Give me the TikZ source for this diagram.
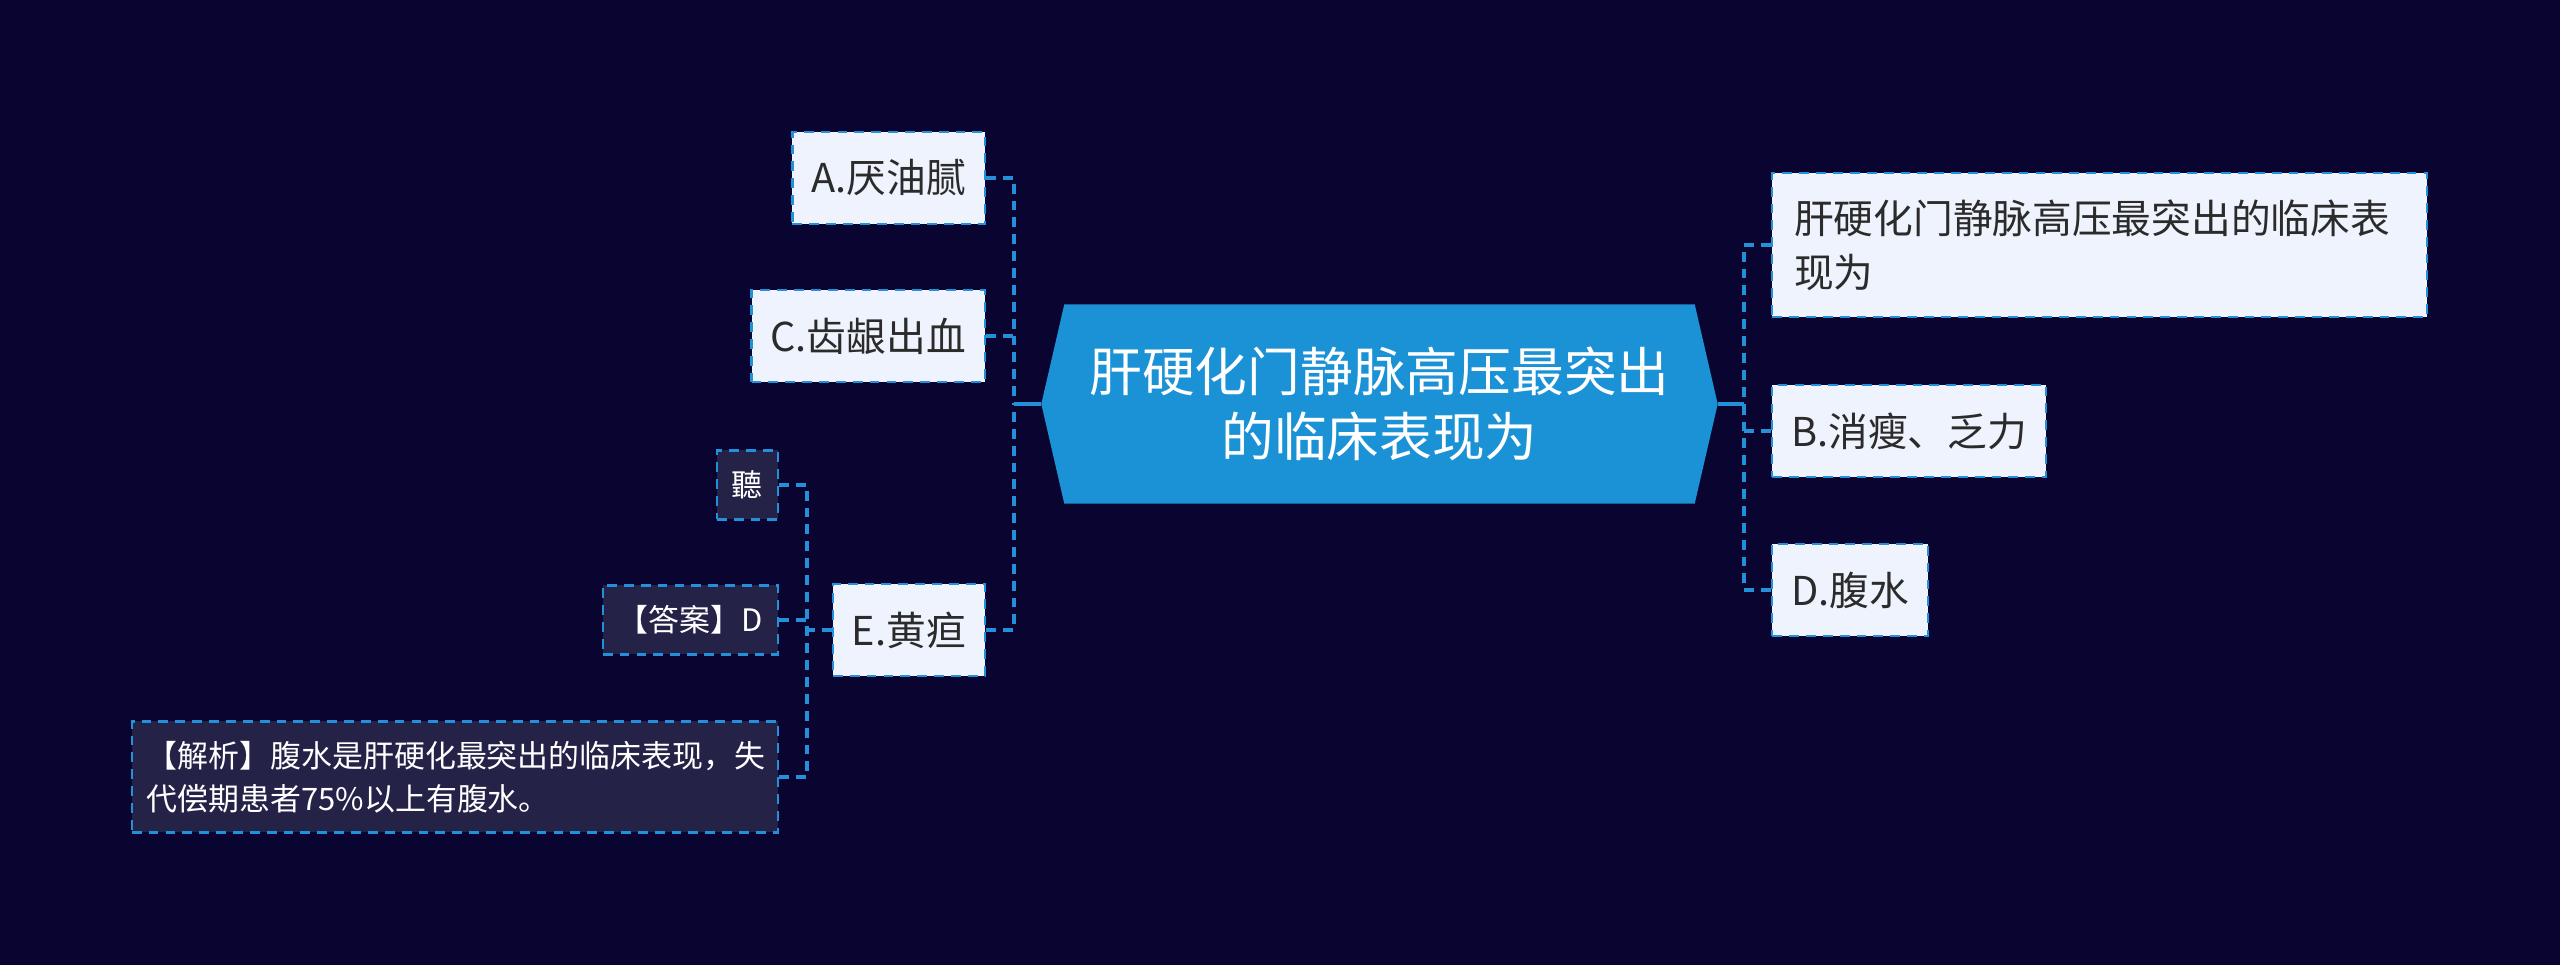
\documentclass[tikz,border=0pt]{standalone}
\usepackage{fontspec}
\setmainfont{Noto Sans CJK SC}
\usetikzlibrary{backgrounds}
\definecolor{bgc}{HTML}{0A0530}
\definecolor{rootc}{HTML}{1B92D5}
\definecolor{linec}{HTML}{2590DA}
\definecolor{lightc}{HTML}{EEF3FD}
\definecolor{darkc}{HTML}{252248}
\definecolor{inkc}{HTML}{2B2B2B}
\tikzset{every node/.style={font=\fontsize{11.3}{15.3}\selectfont},
opt/.style={draw=linec,fill=lightc,text=inkc,line width=.7pt,dash pattern=on 2.8pt off 2pt,minimum height=.92cm,inner xsep=.19cm,inner ysep=0pt},
note/.style={draw=linec,fill=darkc,text=white,line width=.7pt,dash pattern=on 2.8pt off 2pt,font=\fontsize{8.8}{12.1}\selectfont,minimum height=.69cm,inner xsep=.15cm,inner ysep=0pt},
link/.style={draw=linec,line width=1.1pt,dash pattern=on 2.8pt off 2pt},
stub/.style={draw=linec,line width=1.3pt}}

\begin{document}
\begin{tikzpicture}
\node[text=white,align=center,font=\fontsize{15}{18.5}\selectfont,minimum width=6.29cm,minimum height=1.98cm] (root) at (13.795,-4.04) {肝硬化门静脉高压最突出\\的临床表现为};
\begin{scope}[on background layer]
\fill[bgc] (0,0) rectangle (25.6,-9.65);
\fill[rootc] (root.north west)--(root.north east)--([xshift=.23cm]root.east)--(root.south east)--(root.south west)--([xshift=-.23cm]root.west)--cycle;
\end{scope}
\coordinate (rw) at ([xshift=-.23cm]root.west);\coordinate (re) at ([xshift=.23cm]root.east);
% left branch
\node[opt,anchor=east] (a) at (9.86,-1.78) {A.厌油腻};
\node[opt,anchor=east] (c) at (9.86,-3.36) {C.齿龈出血};
\node[opt,anchor=east] (e) at (9.86,-6.30) {E.黄疸};
% right branch
\node[opt,anchor=west,align=left,text width=6.11cm,minimum height=1.44cm,inner xsep=.22cm] (q) at (17.71,-2.45) {肝硬化门静脉高压最突出的临床表\\现为};
\node[opt,anchor=west] (b) at (17.71,-4.31) {B.消瘦、乏力};
\node[opt,anchor=west] (d) at (17.71,-5.90) {D.腹水};
% notes of E
\node[note,anchor=east] (ting) at (7.79,-4.85) {聽};
\node[note,anchor=east] (ans) at (7.79,-6.20) {【答案】D};
\node[note,anchor=east,align=left,text width=6.16cm,minimum height=1.11cm] (expl) at (7.79,-7.77) {【解析】腹水是肝硬化最突出的临床表现，失\\代偿期患者75\%以上有腹水。};
\coordinate (lj) at (10.14,-4.04);\coordinate (rj) at (17.44,-4.04);\coordinate (ej) at (8.07,-6.30);
\draw[stub] (lj)--(rw);\draw[stub] (rj)--(re);
\draw[link] (a.east)-|(lj);\draw[link] (e.east)-|(lj);\draw[link] (c.east)--(c.east-|lj);
\draw[link] (q.west)-|(rj);\draw[link] (d.west)-|(rj);\draw[link] (b.west)--(b.west-|rj);
\draw[link] (ting.east)-|(ej);\draw[link] (expl.east)-|(ej);\draw[link] (ans.east)--(ans.east-|ej);
\draw[link] (e.west)--(ej);
\end{tikzpicture}
\end{document}
